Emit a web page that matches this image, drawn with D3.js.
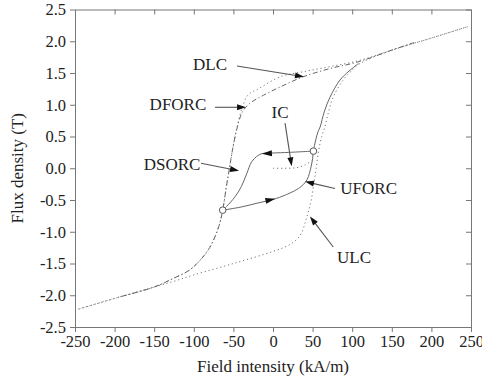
<!DOCTYPE html>
<meta charset="utf-8">
<style>
body { margin: 0; background: #fff; }
text { font-family: "Liberation Serif", "Times New Roman", serif; fill: #222; }
.axis path, .axis line { stroke: #777; }
.axis text { font-size: 16.5px; }
</style>
<svg width="482" height="384"></svg>
<script src="https://d3js.org/d3.v7.min.js"></script>
<script>
// tick values and labels
var xTicks = [-250, -200, -150, -100, -50, 0, 50, 100, 150, 200, 250];
var xTickLabels = ["-250", "-200", "-150", "-100", "-50", "0", "50", "100", "150", "200", "250"];
var yTicks = [-2.5, -2, -1.5, -1, -0.5, 0, 0.5, 1, 1.5, 2, 2.5];
var yTickLabels = ["-2.5", "-2.0", "-1.5", "-1.0", "-0.5", "0.0", "0.5", "1.0", "1.5", "2.0", "2.5"];

// ascending limiting curve (ULC)
var ulcH = [-246, -200, -150, -125, -100, -50, 0, 20, 30, 36, 41, 45, 49, 52, 54.5, 57.5, 61.5, 65.5, 70, 76, 88, 98, 110, 150, 200, 246];
var ulcB = [-2.22, -2.05, -1.87, -1.78, -1.68, -1.50, -1.31, -1.21, -1.12, -1.02, -0.84, -0.67, -0.45, -0.2, 0, 0.27, 0.5, 0.65, 0.88, 1.12, 1.38, 1.52, 1.65, 1.86, 2.05, 2.23];
// descending limiting curve (DLC)
var dlcH = [246, 200, 150, 110, 72, 38, 9, -20, -28, -33, -37, -41, -46, -51, -55, -59, -63.5, -68, -74, -80, -90, -105, -125, -150, -200, -246];
var dlcB = [2.23, 2.05, 1.86, 1.70, 1.60, 1.52, 1.44, 1.24, 1.19, 1.13, 1.02, 0.87, 0.62, 0.3, 0, -0.3, -0.66, -0.9, -1.1, -1.25, -1.42, -1.6, -1.73, -1.87, -2.05, -2.22];
// descending first order reversal curve (DFORC)
var dforcH = [178, 150, 106, 72, 38, 9, -12, -25, -32, -37, -41, -46, -51, -55, -59, -63.5, -68, -74, -80, -90, -105, -125, -150, -195];
var dforcB = [1.98, 1.86, 1.67, 1.57, 1.44, 1.28, 1.15, 1.06, 0.99, 0.92, 0.82, 0.6, 0.3, 0, -0.3, -0.66, -0.9, -1.1, -1.25, -1.42, -1.6, -1.73, -1.87, -2.03];
// ascending first order reversal curve (UFORC)
var uforcH = [-63.5, -40, -20, 3, 21.5, 32, 38, 43, 46, 48.5, 50, 51, 54, 57, 59.5, 65, 72, 84.6, 96, 108];
var uforcB = [-0.66, -0.61, -0.55, -0.48, -0.39, -0.32, -0.26, -0.18, -0.08, 0.05, 0.15, 0.27, 0.45, 0.58, 0.65, 0.9, 1.12, 1.39, 1.53, 1.65];
// descending second order reversal curve (DSORC)
var dsorcH = [51, 20, 0, -14, -19, -27, -33, -40, -48, -58.5, -63.5];
var dsorcB = [0.27, 0.25, 0.24, 0.23, 0.2, 0.10, -0.08, -0.29, -0.45, -0.60, -0.66];
// initial curve (IC)
var icH = [0, 15, 30, 40, 49];
var icB = [0, 0, 0.01, 0.05, 0.12];

// reversal points
var revH = [51, -63.5];
var revB = [0.27, -0.66];

// labels: text, text anchor point, arrow tail, arrow tip (data units)
var labelText = ["DLC", "DFORC", "IC", "DSORC", "UFORC", "ULC"];
var labelPos = [[-79.5, 1.55], [-120, 0.91], [8.8, 0.79], [-127.5, -0.03], [120.8, -0.41], [102.3, -1.49]];
var arrowFrom = [[-45.5, 1.61], [-73.2, 0.96], [15.2, 0.71], [-90.9, 0.08], [78.3, -0.32], [76.1, -1.24]];
var arrowTo = [[39.1, 1.44], [-34, 0.96], [23.6, 0.03], [-42.9, -0.04], [40.4, -0.21], [46.7, -0.76]];

var svg = d3.select("svg"),
    margin = {top: 9.5, right: 11, bottom: 57, left: 75},
    width = +svg.attr("width") - margin.left - margin.right,
    height = +svg.attr("height") - margin.top - margin.bottom,
    g = svg.append("g").attr("transform", "translate(" + margin.left + "," + margin.top + ")");

var x = d3.scaleLinear().domain([-250, 250]).range([0, width]);
var y = d3.scaleLinear().domain([-2.5, 2.5]).range([height, 0]);

// axes: left/bottom ticks outward, top/right inward
g.append("g").attr("class", "axis")
    .attr("transform", "translate(0," + height + ")")
    .call(d3.axisBottom(x).tickValues(xTicks).tickSize(5).tickSizeOuter(0).tickPadding(3)
        .tickFormat(function(d, i) { return xTickLabels[i]; }));
g.append("g").attr("class", "axis")
    .call(d3.axisLeft(y).tickValues(yTicks).tickSize(5).tickSizeOuter(0).tickPadding(4)
        .tickFormat(function(d, i) { return yTickLabels[i]; }));
g.append("g").attr("class", "axis")
    .call(d3.axisTop(x).tickValues(xTicks).tickSize(-5).tickSizeOuter(0).tickFormat(""));
g.append("g").attr("class", "axis")
    .attr("transform", "translate(" + width + ",0)")
    .call(d3.axisRight(y).tickValues(yTicks).tickSize(-5).tickSizeOuter(0).tickFormat(""));
g.selectAll(".axis .tick text").attr("fill", "#222");

svg.append("text")
    .attr("x", margin.left + width / 2).attr("y", 372)
    .attr("text-anchor", "middle").style("font-size", "17px")
    .text("Field intensity (kA/m)");
svg.append("text")
    .attr("transform", "translate(23," + (margin.top + height / 2) + ") rotate(-90)")
    .attr("text-anchor", "middle").style("font-size", "17px")
    .text("Flux density (T)");

function pts(hs, bs) { return hs.map(function(h, i) { return [h, bs[i]]; }); }
var line = d3.line()
    .x(function(d) { return x(d[0]); })
    .y(function(d) { return y(d[1]); })
    .curve(d3.curveCatmullRom.alpha(0.5));

var curves = [
    {p: pts(ulcH, ulcB), dash: "1.2,2.8", color: "#777"},
    {p: pts(dlcH, dlcB), dash: "1.2,2.8", color: "#777"},
    {p: pts(icH, icB), dash: "1.2,2.8", color: "#777"},
    {p: pts(dforcH, dforcB), dash: "5,2.5,1.2,2.5", color: "#666"},
    {p: pts(uforcH, uforcB), dash: null, color: "#666"},
    {p: pts(dsorcH, dsorcB), dash: null, color: "#666"}
];
g.selectAll(".curve").data(curves).enter().append("path")
    .attr("class", "curve")
    .attr("d", function(d) { return line(d.p); })
    .attr("fill", "none")
    .attr("stroke", function(d) { return d.color; })
    .attr("stroke-width", 1)
    .attr("stroke-dasharray", function(d) { return d.dash; });

function arrowHead(tip, from, len, wid) {
    var tx = x(tip[0]), ty = y(tip[1]), fx = x(from[0]), fy = y(from[1]);
    var a = Math.atan2(ty - fy, tx - fx);
    var bx = tx - len * Math.cos(a), by = ty - len * Math.sin(a);
    var px = -Math.sin(a) * wid / 2, py = Math.cos(a) * wid / 2;
    g.append("path")
        .attr("d", "M" + tx + "," + ty + "L" + (bx + px) + "," + (by + py) + "L" + (bx - px) + "," + (by - py) + "Z")
        .attr("fill", "#111");
}

// direction arrows on the reversal curves
arrowHead([3, -0.48], [-63.5, -0.66], 10, 6);
arrowHead([-14, 0.23], [51, 0.27], 10, 6);

// annotation labels and arrows
labelText.forEach(function(t, i) {
    svg.append("text")
        .attr("x", margin.left + x(labelPos[i][0]))
        .attr("y", margin.top + y(labelPos[i][1]))
        .attr("text-anchor", "middle").style("font-size", "17px")
        .text(t);
    var a = Math.atan2(y(arrowTo[i][1]) - y(arrowFrom[i][1]), x(arrowTo[i][0]) - x(arrowFrom[i][0]));
    g.append("line")
        .attr("x1", x(arrowFrom[i][0])).attr("y1", y(arrowFrom[i][1]))
        .attr("x2", x(arrowTo[i][0]) - 8 * Math.cos(a)).attr("y2", y(arrowTo[i][1]) - 8 * Math.sin(a))
        .attr("stroke", "#555").attr("stroke-width", 1.1);
    arrowHead(arrowTo[i], arrowFrom[i], 9, 6);
});

g.selectAll(".rev").data(pts(revH, revB)).enter().append("circle")
    .attr("class", "rev")
    .attr("cx", function(d) { return x(d[0]); })
    .attr("cy", function(d) { return y(d[1]); })
    .attr("r", 3.3)
    .attr("fill", "#fff").attr("stroke", "#555").attr("stroke-width", 1);
</script>
